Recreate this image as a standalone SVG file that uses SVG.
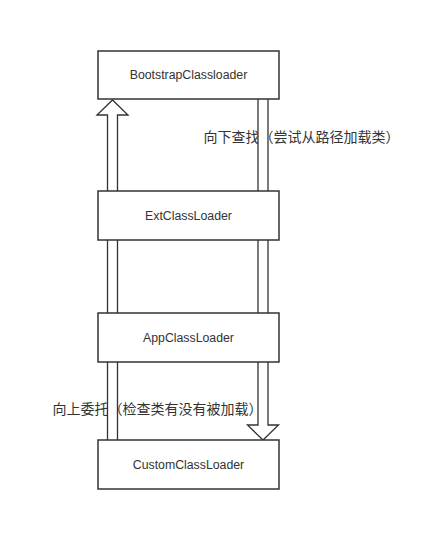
<svg xmlns="http://www.w3.org/2000/svg" width="422" height="546" viewBox="0 0 422 546">
<style>
.box{fill:#fff;stroke:#333;stroke-width:1.5}
.t{font-family:"Liberation Sans",Arial,sans-serif;font-size:12.3px;fill:#333;text-anchor:middle;dominant-baseline:central}
.lbl{font-family:"Noto Sans CJK SC","Liberation Sans",sans-serif;font-size:14px;fill:#333;dominant-baseline:central}
.arr{fill:#fff;stroke:#333;stroke-width:1.3;stroke-linejoin:miter}
</style>
<rect width="422" height="546" fill="#fff"/>
<g id="connectors">
<text class="lbl" x="203.5" y="136">向下查找（尝试从路径加载类）</text>
<text class="lbl" x="52.5" y="408">向上委托（检查类有没有被加载）</text>
<path id="delegate-up" class="arr" d="M107.5,440 L107.5,115 L97,115 L112.5,100 L128,115 L117.5,115 L117.5,440"/>
<path id="search-down" class="arr" d="M258,99 L258,425 L247.5,425 L263,440 L278.5,425 L268,425 L268,99"/>
</g>
<g id="bootstrap">
<rect class="box" x="98" y="51" width="181" height="48"/>
<text class="t" x="188.5" y="75">BootstrapClassloader</text>
</g>
<g id="ext">
<rect class="box" x="98" y="191" width="181" height="49"/>
<text class="t" x="188.5" y="215.5">ExtClassLoader</text>
</g>
<g id="app">
<rect class="box" x="98" y="313" width="181" height="49"/>
<text class="t" x="188.5" y="337.5">AppClassLoader</text>
</g>
<g id="custom">
<rect class="box" x="98" y="440" width="181" height="49"/>
<text class="t" x="188.5" y="464.5">CustomClassLoader</text>
</g>
</svg>
